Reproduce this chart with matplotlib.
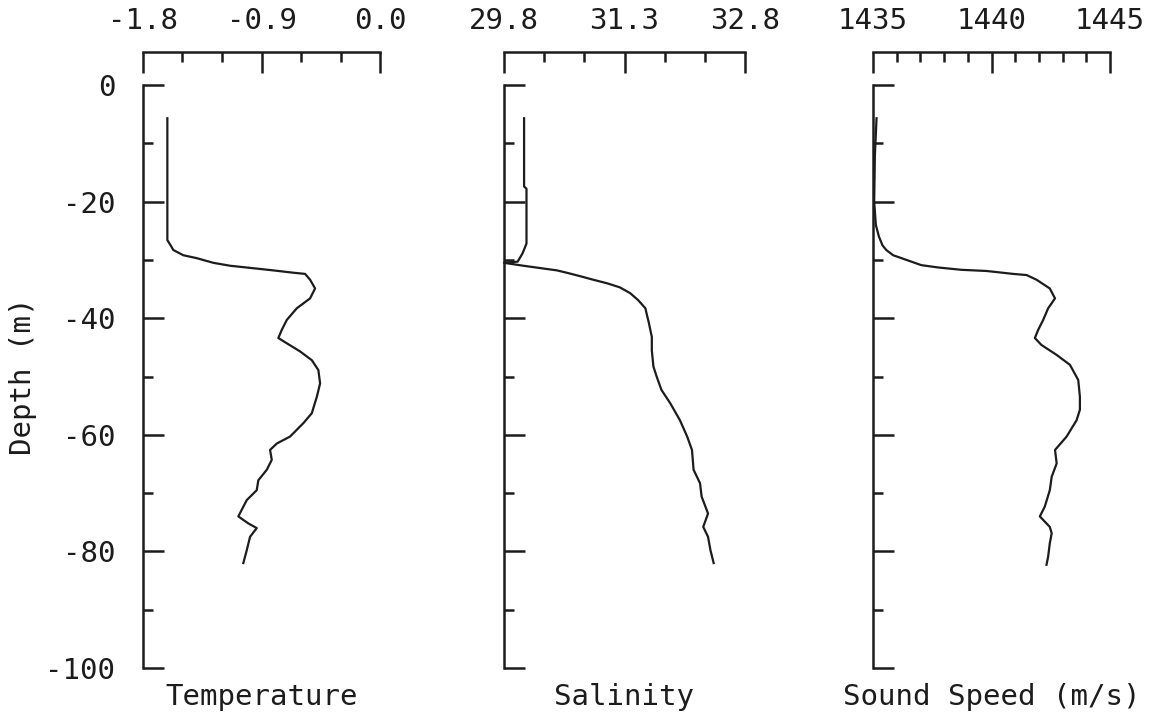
import matplotlib
matplotlib.use('Agg')
import matplotlib.pyplot as plt
from   matplotlib.ticker import FixedLocator, FixedFormatter

#Ink colour and font of the plotter output.
INK  = '#1c1c1c'
FONT = 'DejaVu Sans Mono'
SIZE = 21

#Depth axis (m, negative downwards).
depth_ticks = [0, -20, -40, -60, -80, -100]
depth_minor = [-10, -30, -50, -70, -90]

#Temperature profile (deg C).
temp_depth = [-5.7, -26.6, -27.7, -28.3, -29.2, -29.7, -30.5, -31.0, -31.4, -31.8,
              -32.2, -32.4, -33.4, -34.9, -36.6, -38.3, -40.3, -42.0, -43.4, -44.3,
              -45.7, -47.2, -48.9, -51.2, -53.5, -56.3, -58.0, -60.3, -61.5, -62.6,
              -64.3, -66.0, -67.8, -69.5, -71.2, -74.0, -75.2, -76.0, -77.5, -79.8,
              -82.0]
temp_vals  = [-1.615, -1.615, -1.585, -1.570, -1.494, -1.392, -1.266, -1.139, -0.974, -0.810,
              -0.658, -0.569, -0.531, -0.493, -0.531, -0.632, -0.708, -0.746, -0.772, -0.708,
              -0.607, -0.518, -0.468, -0.455, -0.480, -0.518, -0.582, -0.683, -0.784, -0.835,
              -0.822, -0.860, -0.924, -0.936, -1.012, -1.076, -1.000, -0.936, -0.987, -1.012,
              -1.038]
temp_ticks = [-1.8, -0.9, 0.0]
temp_minor = [-1.5, -1.2, -0.6, -0.3]
temp_labels = ['-1.8', '-0.9', '0.0']

#Salinity profile.
sal_depth = [-5.7, -17.4, -17.8, -27.2, -28.9, -30.3, -30.5, -31.0, -31.4, -31.8,
             -32.2, -32.8, -33.4, -34.0, -34.7, -35.7, -36.9, -38.3, -39.5, -40.6,
             -43.2, -45.5, -48.3, -50.0, -52.3, -54.6, -57.5, -60.3, -62.6, -66.0,
             -68.3, -70.6, -73.5, -75.8, -77.5, -79.8, -82.0]
sal_vals  = [30.05, 30.05, 30.08, 30.08, 30.03, 29.97, 29.80, 30.04, 30.25, 30.46,
             30.58, 30.75, 30.91, 31.08, 31.24, 31.37, 31.47, 31.56, 31.58, 31.60,
             31.64, 31.64, 31.66, 31.70, 31.76, 31.87, 31.99, 32.08, 32.14, 32.16,
             32.24, 32.26, 32.34, 32.28, 32.34, 32.37, 32.41]
sal_ticks  = [29.8, 31.3, 32.8]
sal_minor  = [30.3, 30.8, 31.8, 32.3]
sal_labels = ['29.8', '31.3', '32.8']

#Sound speed profile (m/s).
ss_depth = [-5.7, -12.0, -20.0, -24.0, -26.0, -27.5, -28.3, -29.2, -30.0, -30.9,
            -31.3, -31.7, -31.9, -32.4, -32.6, -33.4, -34.9, -36.6, -38.3, -40.3,
            -42.0, -43.4, -44.6, -46.3, -48.0, -50.6, -53.5, -55.7, -57.5, -60.3,
            -62.6, -64.9, -67.2, -69.5, -72.3, -74.0, -75.8, -76.9, -78.6, -80.9,
            -82.3]
ss_vals  = [1435.15, 1435.08, 1435.05, 1435.12, 1435.25, 1435.40, 1435.56, 1435.85, 1436.41, 1437.04,
            1437.75, 1438.73, 1439.79, 1440.91, 1441.48, 1441.90, 1442.46, 1442.68, 1442.39, 1442.18,
            1441.97, 1441.83, 1442.11, 1442.75, 1443.31, 1443.66, 1443.73, 1443.73, 1443.59, 1443.17,
            1442.68, 1442.75, 1442.54, 1442.46, 1442.25, 1442.04, 1442.46, 1442.54, 1442.46, 1442.39,
            1442.32]
ss_ticks  = [1435, 1440, 1445]
ss_minor  = [1436, 1437, 1438, 1439, 1441, 1442, 1443, 1444]
ss_labels = ['1435', '1440', '1445']

#******************************************************************************
#Draw one profile panel: depth axis on the left, value axis raised above it.
def Panel(fig, rect, depth, vals, ticks, minor, labels, title, first=False):
	ax = fig.add_axes(rect)
	ax.plot(vals, depth, color=INK, lw=1.6, clip_on=False)
	ax.set_xlim(ticks[0], ticks[-1])
	ax.set_ylim(-100, 0)

	for side in ('right', 'bottom'):
		ax.spines[side].set_visible(False)
	for side in ('left', 'top'):
		ax.spines[side].set_color(INK)
		ax.spines[side].set_linewidth(1.8)
	#Value axis sits 33 px above the zero depth line.
	ax.spines['top'].set_position(('outward', 23.8))

	ax.xaxis.set_ticks_position('top')
	ax.xaxis.set_major_locator(FixedLocator(ticks))
	ax.xaxis.set_major_formatter(FixedFormatter(labels))
	ax.xaxis.set_minor_locator(FixedLocator(minor))
	ax.yaxis.set_major_locator(FixedLocator(depth_ticks))
	ax.yaxis.set_minor_locator(FixedLocator(depth_minor))

	ax.tick_params(which='both', direction='in', color=INK, width=1.8,
		labelsize=SIZE, labelcolor=INK)
	ax.tick_params(axis='x', which='major', length=15, pad=12)
	ax.tick_params(axis='x', which='minor', length=7)
	ax.tick_params(axis='y', which='major', length=15, pad=20)
	ax.tick_params(axis='y', which='minor', length=7.5)
	for t in ax.get_xticklabels():
		t.set_family(FONT)

	if first:
		ax.set_yticklabels([str(v) for v in depth_ticks], family=FONT)
		ax.set_ylabel('Depth (m)', family=FONT, fontsize=SIZE, color=INK,
			labelpad=6)
	else:
		ax.set_yticklabels([])

	ax.text(0.5, -0.05, title, transform=ax.transAxes, ha='center',
		va='center', family=FONT, fontsize=SIZE, color=INK)
	return ax

#0: Main.
def main():
	fig = plt.figure(figsize=(11.66, 7.15), dpi=100)
	bottom = 47 / 715
	height = 583 / 715
	Panel(fig, [143 / 1166, bottom, 237 / 1166, height], temp_depth,
		temp_vals, temp_ticks, temp_minor, temp_labels, 'Temperature', True)
	Panel(fig, [504 / 1166, bottom, 241 / 1166, height], sal_depth,
		sal_vals, sal_ticks, sal_minor, sal_labels, 'Salinity')
	Panel(fig, [873 / 1166, bottom, 237 / 1166, height], ss_depth,
		ss_vals, ss_ticks, ss_minor, ss_labels, 'Sound Speed (m/s)')
	fig.savefig('out.png', dpi=100)

main()
